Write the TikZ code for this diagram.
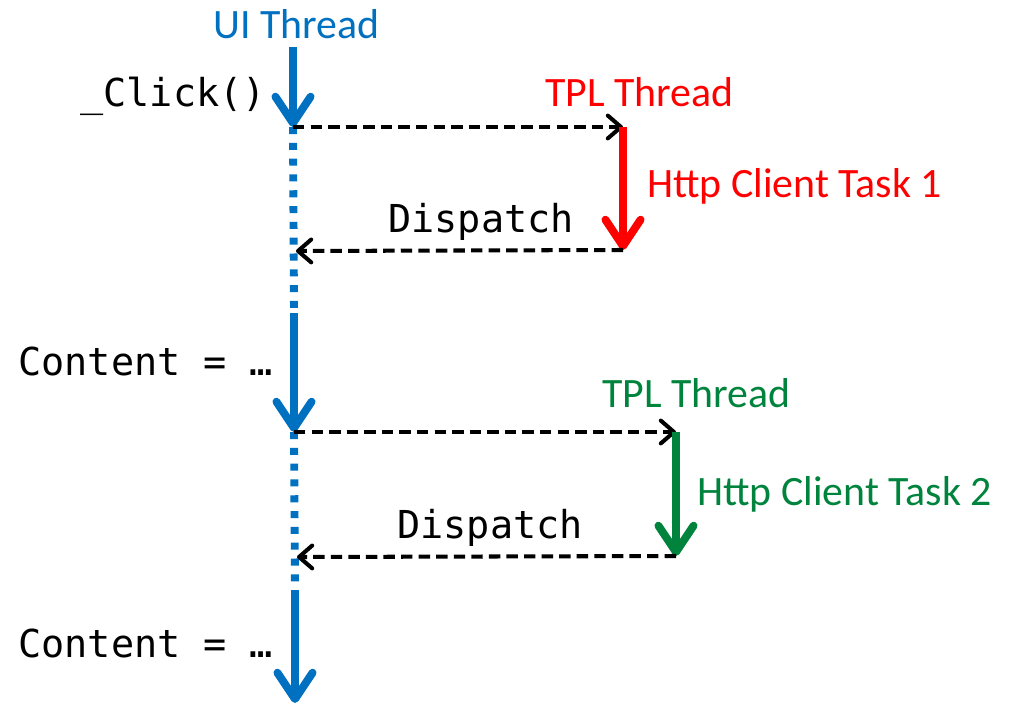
\documentclass[tikz,border=0pt]{standalone}
\usepackage{fontspec}
\setmainfont{Carlito}
\newfontfamily\codefont{DejaVu Sans Mono}
\usetikzlibrary{arrows.meta}
\definecolor{uiblue}{RGB}{0,112,192}
\definecolor{tplred}{RGB}{255,0,0}
\definecolor{tplgreen}{RGB}{0,132,61}
\begin{document}
\begin{tikzpicture}[x=0.02cm,y=-0.02cm,
 lbl/.style={inner sep=0,anchor=base west,font=\fontsize{23.8}{28}\selectfont},
 code/.style={inner sep=0,anchor=base west,font=\codefont\fontsize{21.9}{26}\selectfont},
 thread/.style={line width=4.5pt,-{Straight Barb[length=15pt,width=20pt,round]}},
 waiting/.style={line width=4.5pt,dash pattern=on 4pt off 5pt},
 call/.style={black,line width=2.3pt,dash pattern=on 6.5pt off 3.5pt,-{Straight Barb[length=7.5pt,width=13pt,round]}}]
\useasboundingbox (0,0) rectangle (1013,706);

% labels
\node[lbl,text=uiblue] (ui) at (213,39) {UI Thread};
\node[code] (click) at (80,107) {\_Click()};
\node[lbl,text=tplred] (tpl1) at (545,107) {TPL Thread};
\node[lbl,text=tplred] (task1) at (647,197) {Http Client Task 1};
\node[code] (disp1) at (388,232) {Dispatch};
\node[code] (cont1) at (18,375) {Content = …};
\node[lbl,text=tplgreen] (tpl2) at (602,407) {TPL Thread};
\node[lbl,text=tplgreen] (task2) at (697,505) {Http Client Task 2};
\node[code] (disp2) at (397,538) {Dispatch};
\node[code] (cont2) at (18,657) {Content = …};

% UI thread points
\coordinate (u0) at (293,47);
\coordinate (u1) at (293,127);
\coordinate (d1) at (294,313);
\coordinate (u2) at (294,432);
\coordinate (d2) at (295,590);
\coordinate (u3) at (295,703);
\coordinate (b1) at (296,251);
\coordinate (b2) at (297,557);

% TPL thread points
\coordinate (r0) at (623,127);
\coordinate (r1) at (623,250);
\coordinate (g0) at (676,432);
\coordinate (g1) at (676,556);

% UI thread
\draw[thread,uiblue] (u0) -- (u1);
\draw[waiting,uiblue] (u1) -- (d1);
\draw[thread,uiblue] (d1) -- (u2);
\draw[waiting,uiblue] (u2) -- (d2);
\draw[thread,uiblue] (d2) -- (u3);

% task 1
\draw[call] (u1) -- (r0);
\draw[thread,tplred] (r0) -- (r1);
\draw[call] (r1) -- (b1);

% task 2
\draw[call] (u2) -- (g0);
\draw[thread,tplgreen] (g0) -- (g1);
\draw[call] (g1) -- (b2);
\end{tikzpicture}
\end{document}
